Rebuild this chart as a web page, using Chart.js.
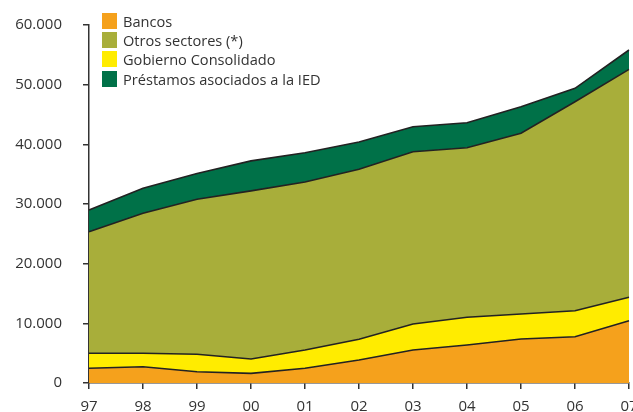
<!DOCTYPE html>
<html>
<head>
<meta charset="utf-8">
<script src="https://cdn.jsdelivr.net/npm/chart.js@4/dist/chart.umd.min.js"></script>
<style>
    html, body { margin: 0; padding: 0; background: #fff; overflow: hidden; }
    #wrap { position: relative; width: 633px; height: 412px; }
    #legend { position: absolute; left: 102px; top: 11px; font-family: "Open Sans", sans-serif; font-size: 14.6px; color: #333; }
    .leg-row { display: flex; align-items: center; height: 19.3px; }
    .leg-box { width: 15px; height: 16px; margin-right: 6px; }
</style>
</head>
<body>
<div id="wrap">
    <canvas id="chart" width="633" height="412"></canvas>
    <div id="legend"></div>
</div>
<script>
// ═══════════════ DATA ═══════════════

const years = ['97', '98', '99', '00', '01', '02', '03', '04', '05', '06', '07'];

const bancos     = [2460, 2730, 1890, 1620, 2460, 3850, 5530, 6370, 7370, 7760, 10440];
const gobierno   = [2520, 2250, 2920, 2400, 3070, 3470, 4360, 4640, 4190, 4360, 3920];
const otros      = [20380, 23460, 25990, 28180, 28170, 28490, 28870, 28420, 30290, 35020, 38210];
const prestamos  = [3630, 4190, 4300, 5030, 4900, 4590, 4190, 4190, 4450, 2250, 3240];

const yTicks = [0, 10000, 20000, 30000, 40000, 50000, 60000];

// stack order bottom -> top
const series = [
    { label: 'Bancos', data: bancos, color: '#F5A11C' },
    { label: 'Gobierno Consolidado', data: gobierno, color: '#FFEC00' },
    { label: 'Otros sectores (*)', data: otros, color: '#A8AE3A' },
    { label: 'Préstamos asociados a la IED', data: prestamos, color: '#007148' }
];

// legend order as printed
const legendOrder = ['Bancos', 'Otros sectores (*)', 'Gobierno Consolidado', 'Préstamos asociados a la IED'];

// ═══════════════ LEGEND ═══════════════

const legendEl = document.getElementById('legend');
legendOrder.forEach(name => {
    const s = series.find(d => d.label === name);
    const row = document.createElement('div');
    row.className = 'leg-row';
    row.innerHTML = '<span class="leg-box" style="background:' + s.color + '"></span><span>' + name + '</span>';
    legendEl.appendChild(row);
});

// ═══════════════ CHART ═══════════════

function fmt(v) {
    return v.toLocaleString('de-DE');
}

function noPad(scale) {
    scale.paddingLeft = 0;
    scale.paddingRight = 0;
    scale.paddingTop = 0;
    scale.paddingBottom = 0;
}

const axisColor = '#333';
const tickFont = { family: '"Open Sans", sans-serif', size: 15 };

new Chart(document.getElementById('chart').getContext('2d'), {
    type: 'line',
    data: {
        labels: years,
        datasets: series.map((s, i) => ({
            label: s.label,
            data: s.data,
            backgroundColor: s.color,
            borderColor: '#222',
            borderWidth: 1.6,
            fill: i === 0 ? 'origin' : '-1',
            tension: 0,
            pointRadius: 0
        }))
    },
    options: {
        responsive: false,
        animation: false,
        layout: { padding: { top: 25, right: 4, left: 0, bottom: 0 } },
        plugins: { legend: { display: false }, tooltip: { enabled: false } },
        scales: {
            x: {
                offset: false,
                grid: { drawOnChartArea: false, drawTicks: true, tickLength: 6, color: axisColor, lineWidth: 1.5 },
                border: { display: true, color: axisColor, width: 1.5 },
                ticks: { color: '#333', font: tickFont, padding: 9, maxRotation: 0, autoSkip: false },
                afterFit: scale => { noPad(scale); scale.height = 29; }
            },
            y: {
                stacked: true,
                min: 0,
                max: 60000,
                afterBuildTicks: scale => { scale.ticks = yTicks.map(v => ({ value: v })); },
                grid: { drawOnChartArea: false, drawTicks: true, tickLength: 6, color: axisColor, lineWidth: 1.5 },
                border: { display: true, color: axisColor, width: 1.5 },
                ticks: { color: '#333', font: tickFont, padding: 21, callback: v => fmt(v) },
                afterFit: scale => { noPad(scale); scale.width = 89; }
            }
        }
    }
});
</script>
</body>
</html>
